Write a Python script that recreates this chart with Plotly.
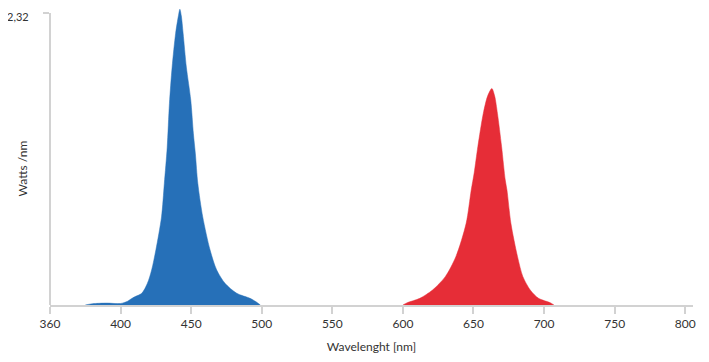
import plotly.graph_objects as go

# Blue LED emission (wavelength nm, Watts/nm)
BLUE_NM = [375, 380, 390, 400, 405, 407, 410, 415, 419, 422, 425, 429, 431, 433,
           434.6, 436.5, 439, 441, 442, 443, 444.3, 446.6, 449.7, 451.6, 453, 454.7,
           458.2, 463.4, 468.1, 474, 482.3, 491.7, 496, 499]
BLUE_W = [0.0, 0.01, 0.015, 0.012, 0.03, 0.045, 0.065, 0.093, 0.172, 0.278, 0.437, 0.70,
          0.967, 1.25, 1.6, 1.89, 2.16, 2.3, 2.35, 2.3, 2.16, 1.89, 1.63, 1.36, 1.2, 0.967,
          0.70, 0.437, 0.278, 0.172, 0.093, 0.053, 0.025, 0.0]

# Red LED emission
RED_NM = [600, 603, 612, 621, 630, 637.5, 644.8, 648.4, 650.5, 653.1, 656.9, 660, 663,
          665, 667, 669.9, 672.5, 673.7, 676.5, 681.2, 685, 690.2, 696.1, 704.4, 707]
RED_W = [0.0, 0.018, 0.053, 0.119, 0.225, 0.384, 0.649, 0.914, 1.05, 1.26, 1.52, 1.66,
         1.72, 1.66, 1.52, 1.26, 0.993, 0.914, 0.649, 0.384, 0.225, 0.119, 0.053, 0.018, 0.0]

X_TICK_VALUES = [350, 400, 450, 500, 550, 600, 650, 700, 750, 800]
X_TICK_LABELS = ["360", "400", "450", "500", "550", "600", "650", "700", "750", "800"]
Y_TICK_VALUES = [2.32]
Y_TICK_LABELS = ["2,32"]

BLUE = "#2670B8"
RED = "#E62D37"
AXIS = "#d2d2d2"
TEXT = "#333333"
FONT = "Lato"

fig = go.Figure()
fig.add_trace(go.Scatter(x=BLUE_NM, y=BLUE_W, mode="lines", fill="tozeroy",
                         line=dict(color=BLUE, width=0.5, shape="spline", smoothing=0.8),
                         fillcolor=BLUE, hoverinfo="x+y", showlegend=False))
fig.add_trace(go.Scatter(x=RED_NM, y=RED_W, mode="lines", fill="tozeroy",
                         line=dict(color=RED, width=0.5, shape="spline", smoothing=0.8),
                         fillcolor=RED, hoverinfo="x+y", showlegend=False))

fig.add_shape(type="line", xref="paper", yref="y", x0=0, x1=0, y0=0, y1=Y_TICK_VALUES[-1],
              line=dict(color=AXIS, width=2), layer="below")

# y tick label (drawn as annotation so it is not hidden at the top edge)
for v, lab in zip(Y_TICK_VALUES, Y_TICK_LABELS):
    fig.add_annotation(text=lab, xref="paper", yref="y", x=-0.031, y=v,
                       xanchor="right", yanchor="middle", showarrow=False,
                       yshift=-3, borderpad=0,
                       font=dict(size=11, color=TEXT))

fig.add_annotation(text="Watts /nm", xref="paper", yref="paper", x=-0.0435, y=0.46,
                   xanchor="center", yanchor="middle",
                   textangle=-90, showarrow=False, font=dict(size=12, color=TEXT))

fig.update_layout(
    width=709, height=362,
    margin=dict(l=42, r=24, t=0, b=65),
    paper_bgcolor="white", plot_bgcolor="white",
    font=dict(family=FONT, size=12, color=TEXT),
    xaxis=dict(range=[350, 805.5], tickvals=X_TICK_VALUES, ticktext=X_TICK_LABELS,
               automargin=False,
               showgrid=False, zeroline=False, showline=True, linecolor=AXIS, linewidth=2,
               ticks="outside", ticklen=7, tickwidth=2, tickcolor=AXIS,
               tickfont=dict(size=12, color=TEXT),
               title=dict(text="Wavelenght [nm]", font=dict(size=12, color=TEXT), standoff=12)),
    yaxis=dict(range=[0, 2.36], tickvals=Y_TICK_VALUES, showticklabels=False,
               automargin=False,
               showgrid=False, zeroline=False, showline=False,
               ticks="outside", ticklen=6, tickwidth=2, tickcolor=AXIS),
)

fig.write_html("out.html")
